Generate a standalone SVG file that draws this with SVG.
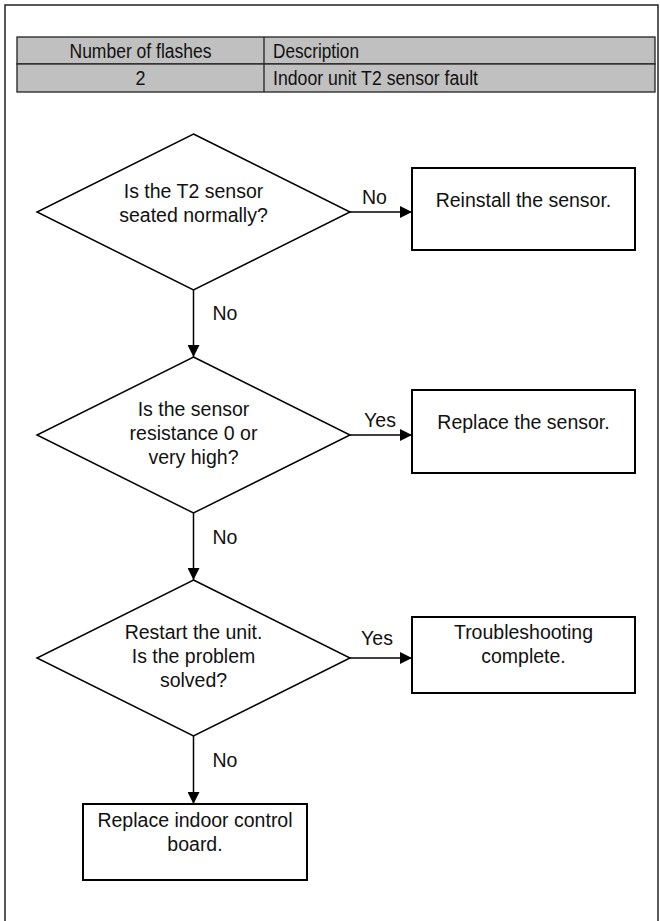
<svg xmlns="http://www.w3.org/2000/svg" width="660" height="921" viewBox="0 0 660 921">
<style>
.frame{fill:none;stroke:#222;stroke-width:1.5}
.cell{fill:#c0c0c0;stroke:#222;stroke-width:1.3}
.tt{font-family:"Liberation Sans",Arial,sans-serif;font-size:19.5px;fill:#111}
.dec{fill:#fff;stroke:#000;stroke-width:1.5}
.box{fill:#fff;stroke:#000;stroke-width:2}
.lbl{font-family:"Liberation Sans",Arial,sans-serif;font-size:19.5px;fill:#111;text-anchor:middle}
.edge{fill:none;stroke:#000;stroke-width:1.5}
</style>
<defs>
<marker id="ah" markerWidth="12" markerHeight="12" refX="12" refY="6" orient="auto" markerUnits="userSpaceOnUse">
<path d="M0,0 L12,6 L0,12 Z" fill="#000"/>
</marker>
</defs>
<path class="frame" d="M5,925 V5 H658 V925"/>
<g id="table">
<rect class="cell" x="17" y="37" width="638" height="27"/>
<rect class="cell" x="17" y="64" width="638" height="28"/>
<line x1="264" y1="37" x2="264" y2="92" stroke="#222" stroke-width="1.3"/>
<text class="tt" x="140.5" y="57.5" text-anchor="middle" textLength="142" lengthAdjust="spacingAndGlyphs">Number of flashes</text>
<text class="tt" x="140.5" y="85" text-anchor="middle" textLength="10" lengthAdjust="spacingAndGlyphs">2</text>
<text class="tt" x="273" y="57.5" textLength="86" lengthAdjust="spacingAndGlyphs">Description</text>
<text class="tt" x="273" y="85" textLength="205" lengthAdjust="spacingAndGlyphs">Indoor unit T2 sensor fault</text>
</g>
<g id="connectors">
<line class="edge" x1="350" y1="212" x2="412" y2="212" marker-end="url(#ah)"/>
<text class="lbl" x="374.5" y="204">No</text>
<line class="edge" x1="193.5" y1="290" x2="193.5" y2="357" marker-end="url(#ah)"/>
<text class="lbl" x="225" y="320">No</text>
<line class="edge" x1="350" y1="435" x2="412" y2="435" marker-end="url(#ah)"/>
<text class="lbl" x="380" y="427">Yes</text>
<line class="edge" x1="193.5" y1="513" x2="193.5" y2="580" marker-end="url(#ah)"/>
<text class="lbl" x="225" y="544">No</text>
<line class="edge" x1="350" y1="658" x2="412" y2="658" marker-end="url(#ah)"/>
<text class="lbl" x="377" y="645">Yes</text>
<line class="edge" x1="193.5" y1="736" x2="193.5" y2="804" marker-end="url(#ah)"/>
<text class="lbl" x="225" y="767">No</text>
</g>
<g id="d1">
<polygon class="dec" points="193.5,134 350,212 193.5,290 37,212"/>
<text class="lbl" x="193.5" y="198">Is the T2 sensor</text>
<text class="lbl" x="193.5" y="222">seated normally?</text>
</g>
<g id="r1">
<rect class="box" x="412" y="168" width="223" height="82"/>
<text class="lbl" x="523.5" y="207">Reinstall the sensor.</text>
</g>
<g id="d2">
<polygon class="dec" points="193.5,357 350,435 193.5,513 37,435"/>
<text class="lbl" x="193.5" y="416">Is the sensor</text>
<text class="lbl" x="193.5" y="440">resistance 0 or</text>
<text class="lbl" x="193.5" y="464">very high?</text>
</g>
<g id="r2">
<rect class="box" x="412" y="390" width="223" height="83"/>
<text class="lbl" x="523.5" y="429">Replace the sensor.</text>
</g>
<g id="d3">
<polygon class="dec" points="193.5,580 350,658 193.5,736 37,658"/>
<text class="lbl" x="193.5" y="639">Restart the unit.</text>
<text class="lbl" x="193.5" y="663">Is the problem</text>
<text class="lbl" x="193.5" y="687">solved?</text>
</g>
<g id="r3">
<rect class="box" x="412" y="617" width="223" height="76"/>
<text class="lbl" x="523.5" y="639">Troubleshooting</text>
<text class="lbl" x="523.5" y="663">complete.</text>
</g>
<g id="r4">
<rect class="box" x="83" y="804" width="224" height="76"/>
<text class="lbl" x="195" y="827">Replace indoor control</text>
<text class="lbl" x="195" y="851">board.</text>
</g>
</svg>
